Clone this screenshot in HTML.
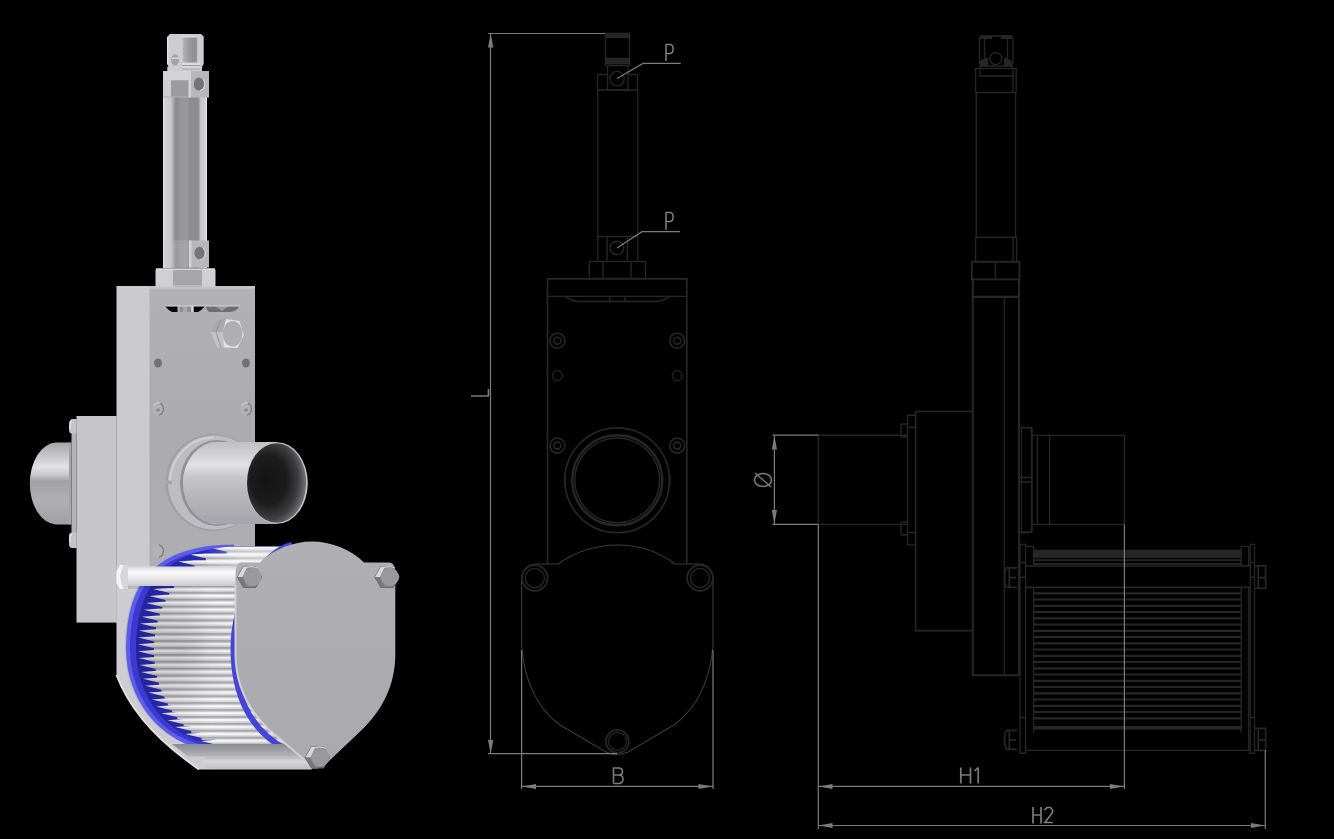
<!DOCTYPE html>
<html><head><meta charset="utf-8">
<style>
html,body{margin:0;padding:0;background:#000;width:1334px;height:839px;overflow:hidden;font-family:"Liberation Sans",sans-serif;}
svg{display:block;position:absolute;left:0;top:0;}
</style></head>
<body>
<svg width="1334" height="839" viewBox="0 0 1334 839">
<rect width="1334" height="839" fill="#000"/>
<!-- ============ MIDDLE DRAWING ============ -->
<g id="mid" fill="none" stroke="#262624" stroke-width="1.35">
  <!-- top block -->
  <rect x="605.5" y="33.5" width="24" height="32"/>
  <rect x="605.5" y="33.5" width="24" height="4" fill="#262624"/>
  <rect x="605.5" y="58.5" width="24" height="5" fill="#262624"/>
  <rect x="607.5" y="65.5" width="20.5" height="24.5"/>
  <path d="M597.5 90 V74.5 H607.5 M628 74.5 H637.5 V90"/>
  <circle cx="617" cy="78.6" r="7.2"/>
  <!-- cylinder -->
  <path d="M597.8 90 H637.8 M597.8 90 V260.5 M637.8 90 V260.5"/>
  <path d="M597.8 236.5 H637.8 M607 236.5 V260.5 M627.4 236.5 V260.5"/>
  <circle cx="617" cy="248" r="6.8"/>
  <!-- nut -->
  <rect x="589.3" y="261.5" width="56.2" height="17"/>
  <path d="M603 261.5 V278.5 M631 261.5 V278.5"/>
  <!-- body -->
  <path d="M547.5 563.5 V278.8 H686.8 V563.5" stroke-width="1.7"/>
  <path d="M547.5 296.4 H686.8"/>
  <path d="M565 296.4 Q572 301.5 580 301.5 H655 Q663 301.5 670 296.4 M610 296.4 V301.5 M625 296.4 V301.5"/>
  <g stroke-width="1.6">
    <circle cx="557.4" cy="340.7" r="7.5"/><circle cx="557.4" cy="340.7" r="3.5"/>
    <circle cx="677.2" cy="340.7" r="7.5"/><circle cx="677.2" cy="340.7" r="3.5"/>
    <circle cx="557.4" cy="445.6" r="7.5"/><circle cx="557.4" cy="445.6" r="3.5"/>
    <circle cx="677.2" cy="445.6" r="7.5"/><circle cx="677.2" cy="445.6" r="3.5"/>
  </g>
  <circle cx="557.4" cy="375.6" r="5" stroke-width="1.2"/>
  <circle cx="677.2" cy="375.6" r="5" stroke-width="1.2"/>
  <circle cx="617.2" cy="480.3" r="52.4" stroke-width="1.7"/>
  <circle cx="617.2" cy="480.3" r="45" stroke-width="2.4"/>
  <circle cx="617.2" cy="480.3" r="42.4" stroke-width="1.5"/>
  <path d="M563.5 477 H566.5 M563.5 484 H566.5 M668 477 H671 M668 484 H671" stroke-width="1.2"/>
  <!-- lid -->
  <path d="M521.6 577 V646 Q526 700 560 725 L606 752 Q617 757 628 752 L674 725 Q708 700 713 646 V577 Q712 566 700 564 H675 Q650 545 617.4 545 Q585 545 558 564 H535 Q523 566 521.6 577 Z" stroke="#3a3a3a" stroke-width="1.1"/>
  <g stroke-width="1.6">
    <circle cx="534.8" cy="578" r="12.8" stroke-width="1.8"/><circle cx="534.8" cy="578" r="9.6" stroke-width="1.4"/>
    <circle cx="700" cy="578" r="12.8" stroke-width="1.8"/><circle cx="700" cy="578" r="9.6" stroke-width="1.4"/>
    <circle cx="617.4" cy="741.4" r="11.5" stroke-width="1.8"/><circle cx="617.4" cy="741.4" r="9" stroke-width="1.2"/>
  </g>
</g>
<g fill="none" stroke="#7b7b7b" stroke-width="1.2">
  <path d="M490.5 33.5 V753.6 M488 33.5 H605 M488 753.6 H617"/>
  <path d="M521.6 650 V789 M713 650 V789 M521.6 786.4 H713"/>
  <path d="M666 61 V44.5 H670 Q673 44.5 673 48.5 V49.5 Q673 53.5 670 53.5 H666" stroke-width="1.6"/>
  <path d="M617 78.6 L643 63.4 H680.7"/>
  <path d="M666 229.7 V212.5 H670 Q673 212.5 673 216.5 V217.5 Q673 221.5 670 221.5 H666" stroke-width="1.6"/>
  <path d="M617 248 L642 231.7 H680"/>
  <path d="M471 396 H489 M488.5 396 V389" stroke-width="1.7"/>
  <path d="M613.5 783.5 V768 H618.5 Q622.5 768 622.5 771.5 Q622.5 775 618.5 775 H613.5 M618.5 775 Q623 775 623 779 Q623 783.5 618.5 783.5 H613.5" stroke-width="1.6"/>
</g>
<g fill="#7b7b7b">
  <path d="M488 47.6 L490.7 33.5 L493.4 47.6 Z"/>
  <path d="M488 740 L490.7 753.5 L493.4 740 Z"/>
  <path d="M536 784 L521.8 786.4 L536 789 Z"/>
  <path d="M698.5 784 L712.8 786.4 L698.5 789 Z"/>
</g>
<!-- ============ RIGHT DRAWING ============ -->
<g id="right" fill="none" stroke="#262624" stroke-width="1.35">
<path d="M981 36 H1011 L1013 38 V63 L1011 66 H981 L979.5 63 V38 Z"/>
<path d="M981 35.5 H992 V39 H981 Z M1001 35.5 H1012 V39 H1001 Z" fill="#262624" stroke="none"/>
<path d="M980 61 L985 58 H988 V66 H980 Z M1012 61 L1007 58 H1004 V66 H1012 Z" fill="#262624" stroke="none"/>
<path d="M984.5 39 V58 M1007.5 39 V58"/>
<circle cx="995.7" cy="58.6" r="6"/>
<path d="M980 66 V76 H1013 M1012 66 V68.5"/>
<rect x="975.6" y="68.5" width="40.6" height="24"/>
<path d="M1013 68.5 V92.5"/>
<path d="M976.3 92.5 V237.3 M1015.5 92.5 V237.3"/>
<rect x="975.6" y="237.3" width="41" height="24.4"/>
<path d="M1013 237.3 V261.7"/>
<rect x="971.8" y="261.7" width="47.7" height="17.7" stroke-width="1.8"/>
<path d="M995.4 261.7 V279.4"/>
<path d="M971.8 296.9 H1019.5" stroke-width="2.2"/>
<path d="M1004.3 296.9 V675.3"/>
<path d="M972.8 279.4 V675.3 H1019.2 M1019 279.4 V675.3" stroke-width="2"/>
<path d="M972.8 411.5 H915.6 V630.6 H972.8" stroke-width="1.6"/><path d="M907.5 427.5 H915.6 M907.5 532.5 H915.6"/>
<path d="M915.6 415.2 H907.5 V544.8 H915.6"/>
<path d="M907.5 424 H902.5 Q901 424 901 426 V435 Q901 437 902.5 437 H907.5 M907.5 522 H902.5 Q901 522 901 524 V533 Q901 535 902.5 535 H907.5"/>
<path d="M907.5 435.2 H818.3 V524.4 H907.5"/>
<path d="M1019.6 427.6 H1030 Q1031.8 427.6 1031.8 430 V530 Q1031.8 532.2 1030 532.2 H1019.6" stroke-width="1.9"/><path d="M1019.6 477.5 H1031.8 M1019.6 482 H1031.8 M1021.5 429 V531" stroke-width="1.3"/>
<path d="M1031.8 435.4 H1124.4 V524.4 H1031.8 M1037.4 435.4 V524.4 M1049.6 435.4 V524.4"/>
<path d="M1020 544.3 H1025.6 V753.2 H1020 Z M1020 562.5 H1025.6 M1020 577.2 H1025.6 M1020 717.5 H1025.6"/>
<path d="M1025.6 546.3 H1033.6 V566 M1033.6 587.4 V732.9"/>
<rect x="1033.6" y="549.8" width="207.6" height="8.1" fill="#262624" stroke="none"/>
<path d="M1033.6 560.2 H1241.2 M1033.6 563.8 H1241.2" stroke-width="1.8"/>
<path d="M1025.6 566 H1250.3 M1025.6 587.4 H1250.3" stroke-width="1.6"/>
<path d="M1241.2 546.3 H1248.6 V566 M1248.6 587.4 V750.4 M1241.2 587.4 V732.9 M1241.2 546.3 V566"/>
<path d="M1250.3 544.3 H1254.5 V753.2 H1250.3 Z M1250.3 562.5 H1254.5 M1250.3 577.2 H1254.5 M1250.3 717.5 H1254.5"/>
<path d="M1017 567.9 H1006.5 Q1004.5 570.9 1004.5 577.65 Q1004.5 584.4 1006.5 587.4 H1017 M1009.3 567.9 V587.4 M1009.3 577.65 H1016" stroke-width="1.7"/>
<path d="M1254.5 565.9 H1265.6 V588.4 H1254.5 M1258.2 565.9 V588.4 M1258.2 577.65 H1265" stroke-width="1.7"/>
<path d="M1017 730.4 H1006.5 Q1004.5 733.4 1004.5 739.8499999999999 Q1004.5 746.3 1006.5 749.3 H1017 M1009.3 730.4 V749.3 M1009.3 739.8499999999999 H1016" stroke-width="1.7"/>
<path d="M1254.5 728.4 H1265.6 V750.3 H1254.5 M1258.2 728.4 V750.3 M1258.2 739.8499999999999 H1265" stroke-width="1.7"/>
<path d="M1033.6 593.3 H1241.2 M1033.6 599.5 H1241.2 M1033.6 605.8 H1241.2 M1033.6 612.0 H1241.2 M1033.6 618.3 H1241.2 M1033.6 624.5 H1241.2 M1033.6 630.8 H1241.2 M1033.6 637.0 H1241.2 M1033.6 643.3 H1241.2 M1033.6 649.5 H1241.2 M1033.6 655.8 H1241.2 M1033.6 662.0 H1241.2 M1033.6 668.3 H1241.2 M1033.6 674.5 H1241.2 M1033.6 680.8 H1241.2 M1033.6 687.0 H1241.2 M1033.6 693.3 H1241.2 M1033.6 699.5 H1241.2 M1033.6 705.8 H1241.2 M1033.6 712.0 H1241.2 M1033.6 718.3 H1241.2" stroke-width="2.2" stroke="#262624"/>
<rect x="1033.6" y="726" width="207.6" height="3.6" fill="#262624" stroke="none"/>
<path d="M1025.6 750.4 H1250.3" stroke-width="1.3"/>
</g>
<g fill="none" stroke="#7b7b7b" stroke-width="1.2">
<path d="M772.5 435.2 H818.3 M772.5 524.4 H818.3 M774.4 435.2 V524.4"/>
<path d="M818.3 524.4 V829 M1124.4 524.4 V789 M1265.3 750 V829 M818.3 786.4 H1124.4 M818.3 825.5 H1265.3"/>
<path d="M960.8 767.5 V783.5 M970.5 767.5 V783.5 M960.8 775 H970.5 M978.2 767.5 V783.5 M974.5 771 L978.2 767.5" stroke-width="1.7"/>
<path d="M1033 807 V823.5 M1041 807 V823.5 M1033 815 H1041 M1044.5 810 L1047 807.5 H1050.5 L1052.5 810 V812.5 L1045 822.5 H1052.8" stroke-width="1.7"/>
<g transform="translate(763,480) rotate(-90)"><ellipse cx="0" cy="0" rx="6.5" ry="8.5" stroke-width="1.6"/><path d="M-7 8 L7 -8" stroke-width="1.4"/></g>
</g>
<g fill="#7b7b7b">
<path d="M771.8 449.5 L774.4 435.5 L777 449.5 Z M771.8 510 L774.4 524 L777 510 Z"/>
<path d="M832.5 784 L818.5 786.4 L832.5 789 Z M1110 784 L1124.2 786.4 L1110 789 Z"/>
<path d="M832.5 823.1 L818.5 825.5 L832.5 828 Z M1251 823.1 L1265.1 825.5 L1251 828 Z"/>
</g>
<!-- ============ 3D RENDER ============ -->
<g id="render">
<defs>
<linearGradient id="gShadB" gradientUnits="userSpaceOnUse" x1="0" y1="744" x2="0" y2="756.5">
 <stop offset="0" stop-color="#8a8a92"/><stop offset="1" stop-color="#b4b4b8"/>
</linearGradient>
<linearGradient id="gTopW" gradientUnits="userSpaceOnUse" x1="205" y1="0" x2="245" y2="0">
 <stop offset="0" stop-color="#fff" stop-opacity="0"/><stop offset="1" stop-color="#fff" stop-opacity="0.4"/>
</linearGradient>
<linearGradient id="gIns" gradientUnits="userSpaceOnUse" x1="183" y1="0" x2="199.5" y2="0">
 <stop offset="0" stop-color="#b4b4b8"/><stop offset="0.35" stop-color="#9c9ca0"/><stop offset="0.7" stop-color="#8e8e92"/><stop offset="1" stop-color="#a8a8ac"/>
</linearGradient>
<linearGradient id="gLid" gradientUnits="userSpaceOnUse" x1="0" y1="541" x2="0" y2="770">
 <stop offset="0" stop-color="#b0b0b4"/><stop offset="0.5" stop-color="#acacb0"/><stop offset="1" stop-color="#aaaaae"/>
</linearGradient>
<linearGradient id="gFront" gradientUnits="userSpaceOnUse" x1="0" y1="286" x2="0" y2="566">
 <stop offset="0" stop-color="#b2b2b6"/><stop offset="0.5" stop-color="#ababaf"/><stop offset="1" stop-color="#aeaeb2"/>
</linearGradient>
<linearGradient id="gCyl" gradientUnits="userSpaceOnUse" x1="163" y1="0" x2="207" y2="0">
 <stop offset="0" stop-color="#eeeef0"/><stop offset="0.04" stop-color="#d2d2d5"/>
 <stop offset="0.18" stop-color="#c8c8cb"/><stop offset="0.29" stop-color="#8a8a8c"/>
 <stop offset="0.4" stop-color="#949496"/><stop offset="0.52" stop-color="#9a9a9c"/>
 <stop offset="0.62" stop-color="#8e8e90"/><stop offset="0.8" stop-color="#8c8c8e"/>
 <stop offset="0.86" stop-color="#c8c8cb"/><stop offset="0.96" stop-color="#d0d0d3"/><stop offset="1" stop-color="#f0f0f2"/>
</linearGradient>
<linearGradient id="gPipeL" gradientUnits="userSpaceOnUse" x1="0" y1="442" x2="0" y2="525">
 <stop offset="0" stop-color="#a4a4a6"/><stop offset="0.15" stop-color="#c4c4c6"/>
 <stop offset="0.3" stop-color="#e2e2e4"/><stop offset="0.4" stop-color="#c8c8ca"/>
 <stop offset="0.47" stop-color="#a2a2a4"/><stop offset="0.7" stop-color="#b0b0b2"/>
 <stop offset="1" stop-color="#a0a0a2"/>
</linearGradient>
<linearGradient id="gPipeR" gradientUnits="userSpaceOnUse" x1="0" y1="442" x2="0" y2="524">
 <stop offset="0" stop-color="#c0c0c2"/><stop offset="0.12" stop-color="#cdcdcf"/>
 <stop offset="0.28" stop-color="#e2e2e4"/><stop offset="0.42" stop-color="#c8c8ca"/>
 <stop offset="0.6" stop-color="#bababc"/><stop offset="0.85" stop-color="#acacb2"/>
 <stop offset="1" stop-color="#a4a4aa"/>
</linearGradient>
<radialGradient id="gHole" cx="0.4" cy="0.47" r="0.62" fx="0.32" fy="0.45">
 <stop offset="0" stop-color="#141414"/><stop offset="0.5" stop-color="#1c1c1c"/><stop offset="0.78" stop-color="#3e3e40"/><stop offset="0.95" stop-color="#6e6e70"/><stop offset="1" stop-color="#909092"/>
</radialGradient>
<linearGradient id="gRod" gradientUnits="userSpaceOnUse" x1="0" y1="566" x2="0" y2="588">
 <stop offset="0" stop-color="#d4d4d6"/><stop offset="0.28" stop-color="#fafafc"/>
 <stop offset="0.6" stop-color="#e6e6e8"/><stop offset="1" stop-color="#c0c0c4"/>
</linearGradient>
<linearGradient id="gRod2" gradientUnits="userSpaceOnUse" x1="0" y1="756" x2="0" y2="769">
 <stop offset="0" stop-color="#b0b0b3"/><stop offset="0.4" stop-color="#d8d8dc"/>
 <stop offset="1" stop-color="#c0c0c4"/>
</linearGradient>
<pattern id="pPleat" patternUnits="userSpaceOnUse" x="0" y="546.5" width="300" height="6.9">
 <rect width="300" height="6.9" fill="#d4d4d6"/>
 <rect y="0" width="300" height="2" fill="#f8f8fa"/>
 <rect y="2" width="300" height="1.6" fill="#e2e2e4"/>
 <rect y="3.8" width="300" height="1.9" fill="#a8a8aa"/>
</pattern>
<radialGradient id="gPleatAO" gradientUnits="userSpaceOnUse" cx="185" cy="650" r="60">
 <stop offset="0" stop-color="#000" stop-opacity="0.12"/><stop offset="1" stop-color="#000" stop-opacity="0"/>
</radialGradient>
<linearGradient id="gPleatShade" gradientUnits="userSpaceOnUse" x1="130" y1="0" x2="290" y2="0">
 <stop offset="0" stop-color="#000" stop-opacity="0.15"/><stop offset="0.5" stop-color="#000" stop-opacity="0"/>
 <stop offset="1" stop-color="#000" stop-opacity="0.05"/>
</linearGradient>
</defs>
<path d="M70 442.5 H55.5 A27 41 0 0 0 55.5 524.4 H70 Z" fill="url(#gPipeL)"/>
<rect x="71.5" y="419" width="5" height="129" fill="#b4b4b8"/>
<path d="M76.5 419 H72 Q69 420 69 424 V430 Q69 433.5 72 433.5 H76.5 Z M76.5 532.5 H72 Q69 532.5 69 536 V544 Q69 548 72 548 H76.5 Z" fill="#c4c4c8"/>
<path d="M72 421 Q70 422 70 425 V429" fill="none" stroke="#e8e8ea" stroke-width="1.2"/><path d="M72 534.5 Q70 535 70 538 V542" fill="none" stroke="#e8e8ea" stroke-width="1.2"/>
<rect x="69" y="442.5" width="2.5" height="82" fill="#a4a4a8"/>
<rect x="76.5" y="416" width="40.5" height="206.6" fill="#c6c6ca"/>
<rect x="116.5" y="286" width="33.5" height="300" fill="#cbcbcf"/><rect x="116" y="416" width="1" height="207" fill="#a8a8ac"/>
<rect x="149.5" y="286" width="105.5" height="280" fill="url(#gFront)"/>
<rect x="149.5" y="286" width="105.5" height="3" fill="#c4c4c8"/>
<path d="M165 306.3 H177.5 V312 H172 Q168 310 165 306.3 Z" fill="#050505"/>
<rect x="179.6" y="306.3" width="11.7" height="5.7" fill="#8e8e90"/><rect x="183" y="306.3" width="4" height="5.7" fill="#a8a8aa"/>
<rect x="191.3" y="306" width="1.8" height="6" fill="#d8d8da"/>
<path d="M193.8 306.3 H205 Q202 310 198 312 H193.8 Z" fill="#050505"/>
<path d="M205.5 306.3 H239.5 Q236 312 230 312 H209 Q206.5 310 205.5 306.3 Z" fill="#6e6e72"/>
<path d="M215 306.3 L222 311 L229 306.3 Z" fill="#9a9a9e"/>
<path d="M165 306 H240" stroke="#e0e0e2" stroke-width="0.8"/>
<polygon points="210.5,332 218,319.5 226,319 222.5,333 224,347.5 217,347.5" fill="#b2b2b6"/>
<polygon points="210.5,332 218,319.5 226,319 222.5,332" fill="#a9a9ad"/>
<polygon points="210.5,332 222.5,332 224,347.5 217,347.5" fill="#c2c2c6"/>
<path d="M216 332 L221 319.5 M216 332 L221 347.5" stroke="#96969a" stroke-width="1" fill="none"/>
<polygon points="226,319 239.5,321 243.8,335 237.5,348 224,347.5 222.5,333" fill="#e2e2e4"/>
<ellipse cx="232.6" cy="333.8" rx="9.9" ry="12.7" fill="#afafb3"/>
<ellipse cx="158" cy="363" rx="4" ry="4.6" fill="#727276"/>
<circle cx="158" cy="409" r="6.2" fill="#b2b2b6"/><path d="M159 402.8 A6.2 6.5 0 0 1 159 415.2" fill="none" stroke="#7c7c80" stroke-width="1.3"/><path d="M153.5 405 A6 6 0 0 1 160 403" fill="none" stroke="#dadade" stroke-width="1"/><ellipse cx="158" cy="410" rx="2.2" ry="1.8" fill="#8c8c90"/>
<ellipse cx="246" cy="363" rx="4" ry="4.6" fill="#727276"/>
<circle cx="246" cy="409" r="6.2" fill="#b2b2b6"/><path d="M247 402.8 A6.2 6.5 0 0 1 247 415.2" fill="none" stroke="#7c7c80" stroke-width="1.3"/><path d="M241.5 405 A6 6 0 0 1 248 403" fill="none" stroke="#dadade" stroke-width="1"/><ellipse cx="246" cy="410" rx="2.2" ry="1.8" fill="#8c8c90"/>
<circle cx="158" cy="551" r="6.2" fill="#b2b2b6"/><path d="M159 544.8 A6.2 6.5 0 0 1 159 557.2" fill="none" stroke="#7c7c80" stroke-width="1.3"/>
<rect x="163" y="80" width="44" height="188" fill="url(#gCyl)"/>
<rect x="163" y="71" width="46" height="9.5" fill="#d4d4d6"/>
<rect x="171" y="80.5" width="18" height="16.5" fill="#9c9c9e"/><rect x="163" y="80.5" width="8" height="16.5" fill="#cfcfd2"/><rect x="163" y="96.5" width="26" height="1" fill="#b4b4b7"/>
<rect x="188.6" y="71" width="20.4" height="26.5" fill="#b8b8bc"/><rect x="188.6" y="71" width="2.4" height="26.5" fill="#d4d4d8"/>
<ellipse cx="199" cy="84" rx="5.2" ry="6.6" fill="#747478"/><path d="M203 79 A5.2 6.6 0 0 1 200 90.6" fill="none" stroke="#dadade" stroke-width="1"/>
<path d="M170 34 H201 L203.7 36.5 V64 L202 66.7 V71 H167.3 V66.7 H168.5 L167 64 V37 Z" fill="#cdcdd0"/>
<rect x="182.7" y="35.3" width="14.6" height="28" fill="url(#gIns)"/><rect x="182.7" y="35.3" width="14.6" height="2.2" fill="#dadade"/>
<rect x="182" y="62.5" width="18.5" height="2.5" fill="#dcdce0"/><rect x="182" y="65" width="18.5" height="1.2" fill="#a0a0a4"/><rect x="182" y="66.2" width="18.5" height="2.3" fill="#d8d8dc"/><rect x="182" y="68.5" width="18.5" height="1" fill="#a4a4a8"/>
<ellipse cx="175.1" cy="59.9" rx="4" ry="5.6" fill="#a4a4a8"/><rect x="172" y="57.5" width="7" height="1.4" fill="#d8d8da"/>
<rect x="167" y="37" width="1.3" height="27" fill="#e4e4e6"/>
<rect x="189" y="240.5" width="20" height="27" fill="#b8b8bc"/><rect x="189" y="240.5" width="2.4" height="27" fill="#d4d4d8"/>
<ellipse cx="199.5" cy="253" rx="5" ry="6.3" fill="#747478"/><path d="M203.5 248 A5 6.3 0 0 1 200.5 259.3" fill="none" stroke="#dadade" stroke-width="1"/>
<rect x="163" y="240.5" width="26" height="27" fill="#c8c8cb" opacity="0.25"/>
<path d="M156.5 268.5 H214.5 L215.5 270 V286.5 H155.5 V270 Z" fill="#d0d0d4"/>
<rect x="173" y="269.5" width="29" height="17" fill="#a6a6aa"/>
<rect x="156" y="268.5" width="59" height="1.2" fill="#e2e2e4"/>
<rect x="173" y="285" width="29" height="2" fill="#b8b8bc"/>
<ellipse cx="213" cy="482.5" rx="47.5" ry="48.5" fill="#a0a0a4"/>
<ellipse cx="214" cy="482.5" rx="46" ry="47" fill="#bdbdc1"/>
<path d="M170 482.5 A44 45 0 0 1 214 437.5" fill="none" stroke="#cfcfd3" stroke-width="2"/>
<rect x="165" y="480.5" width="7" height="3.5" fill="#a6a6aa"/>
<ellipse cx="217" cy="483" rx="37" ry="43" fill="#929296"/>
<ellipse cx="218" cy="483" rx="35" ry="41.5" fill="#b2b2b6"/>
<path d="M218 442 H277 V524 H218 A35 41 0 0 1 218 442 Z" fill="url(#gPipeR)"/>
<ellipse cx="277" cy="483" rx="30.8" ry="40.8" fill="#c6c6c8"/>
<ellipse cx="276.6" cy="483" rx="29.6" ry="39.8" fill="url(#gHole)"/>
<path d="M116.5 566 V675 C128 705 150 733 184.8 759 L199 769.5 H312 V566 Z" fill="#cdcdd1"/>
<path d="M116.5 675 C128 705 150 733 184.8 759 L199 769.5" fill="none" stroke="#e2e2e4" stroke-width="2"/>
<clipPath id="cFil"><path d="M234 546.5 C160 546.5 128 580 128 648 C128 704 168 749 222 749 H300 V546.5 Z"/></clipPath>
<clipPath id="cFil2"><path d="M236 546.5 C168 549 136 584 136 648 C136 702 174 745 226 745 H300 V546.5 Z"/></clipPath>
<path d="M240 544.5 C156 544.5 125 578 125 648 C125 706 166 751 222 751 H240 Z" fill="#b8b8bc"/>
<g clip-path="url(#cFil)">
<rect x="120" y="540" width="200" height="215" fill="#3a3ad0"/>
</g>
<path d="M234 546.5 C160 546.5 128 580 128 648 C128 704 168 749 222 749" fill="none" stroke="#5c5cec" stroke-width="4"/>
<g clip-path="url(#cFil2)">
<rect x="120" y="540" width="200" height="215" fill="#2a2ab8"/>
<path d="M226.7 546.5 L210.7 547.7 L226.7 551.7 L226.7 553.4 H300 V546.5 Z M205.9 553.4 L189.9 554.6 L205.9 558.6 L205.9 560.3 H300 V553.4 Z M194.5 560.3 L178.5 561.5 L194.5 565.5 L194.5 567.2 H300 V560.3 Z M186.1 567.2 L170.1 568.4 L186.1 572.4 L186.1 574.1 H300 V567.2 Z M179.4 574.1 L163.4 575.3 L179.4 579.3 L179.4 581.0 H300 V574.1 Z M173.9 581.0 L157.9 582.2 L173.9 586.2 L173.9 587.9 H300 V581.0 Z M169.3 587.9 L153.3 589.1 L169.3 593.1 L169.3 594.8 H300 V587.9 Z M165.5 594.8 L149.5 596.0 L165.5 600.0 L165.5 601.7 H300 V594.8 Z M162.4 601.7 L146.4 602.9 L162.4 606.9 L162.4 608.6 H300 V601.7 Z M159.8 608.6 L143.8 609.8 L159.8 613.8 L159.8 615.5 H300 V608.6 Z M157.7 615.5 L141.7 616.7 L157.7 620.7 L157.7 622.4 H300 V615.5 Z M156.1 622.4 L140.1 623.6 L156.1 627.6 L156.1 629.3 H300 V622.4 Z M155.0 629.3 L139.0 630.5 L155.0 634.5 L155.0 636.2 H300 V629.3 Z M154.3 636.2 L138.3 637.4 L154.3 641.4 L154.3 643.1 H300 V636.2 Z M154.0 643.1 L138.0 644.3 L154.0 648.3 L154.0 650.0 H300 V643.1 Z M154.1 650.0 L138.1 651.2 L154.1 655.2 L154.1 656.9 H300 V650.0 Z M154.7 656.9 L138.7 658.1 L154.7 662.1 L154.7 663.8 H300 V656.9 Z M155.7 663.8 L139.7 665.0 L155.7 669.0 L155.7 670.7 H300 V663.8 Z M157.1 670.7 L141.1 671.9 L157.1 675.9 L157.1 677.6 H300 V670.7 Z M159.0 677.6 L143.0 678.8 L159.0 682.8 L159.0 684.5 H300 V677.6 Z M161.4 684.5 L145.4 685.7 L161.4 689.7 L161.4 691.4 H300 V684.5 Z M164.4 691.4 L148.4 692.6 L164.4 696.6 L164.4 698.3 H300 V691.4 Z M167.9 698.3 L151.9 699.5 L167.9 703.5 L167.9 705.2 H300 V698.3 Z M172.2 705.2 L156.2 706.4 L172.2 710.4 L172.2 712.1 H300 V705.2 Z M177.3 712.1 L161.3 713.3 L177.3 717.3 L177.3 719.0 H300 V712.1 Z M183.6 719.0 L167.6 720.2 L183.6 724.2 L183.6 725.9 H300 V719.0 Z M191.3 725.9 L175.3 727.1 L191.3 731.1 L191.3 732.8 H300 V725.9 Z M201.5 732.8 L185.5 734.0 L201.5 738.0 L201.5 739.7 H300 V732.8 Z M217.0 739.7 L201.0 740.9 L217.0 744.9 L217.0 746.6 H300 V739.7 Z M240.0 746.6 L224.0 747.8 L240.0 751.8 L240.0 753.5 H300 V746.6 Z" fill="url(#pPleat)"/>
<rect x="120" y="540" width="200" height="215" fill="url(#gPleatShade)"/><rect x="120" y="540" width="200" height="215" fill="url(#gPleatAO)"/><rect x="200" y="546" width="98" height="20" fill="url(#gTopW)"/>
</g>
<path d="M292 545 C262 552 233.5 600 233.5 648 C233.5 700 254 733 287 750" fill="none" stroke="#4444dc" stroke-width="6"/>
<rect x="122" y="566.5" width="124" height="19.5" fill="url(#gRod)"/>
<rect x="122" y="586" width="124" height="3" fill="#000" opacity="0.1"/>
<path d="M116.5 571 L120 565 H128 V589 H120 L116.5 583 Z" fill="#d6d6da"/>
<path d="M116.5 571 L120 565 H123 L120 576 L123 589 H120 L116.5 583 Z" fill="#f4f4f6"/>
<path d="M172 744 H300 V756.5 H188 Z" fill="url(#gShadB)"/>
<path d="M210 756.5 H318 V768.5 H210 Q202.5 768.5 202.5 762.5 Q202.5 756.5 210 756.5 Z" fill="url(#gRod2)"/>
<path d="M241 562.5 H260 A75 75 0 0 1 364 562.5 H390 Q395.3 563 395.3 575 V654 C395.3 688 380 712 363 728.7 L328 762 Q318 771 307 762 L268 728.7 C251 712 235.5 688 235.5 654 V575 Q235.5 563 241 562.5 Z" fill="url(#gLid)"/>
<path d="M235.5 585 V654 C235.5 688 251 712 268 728.7 L307 762" fill="none" stroke="#d0d0d4" stroke-width="2"/>
<polygon points="261.5,577.0 255.5,566.6 243.5,566.6 237.5,577.0 243.5,587.4 255.5,587.4" fill="#8c8c90" stroke="#6a6a6e" stroke-width="1.2"/>
<polygon points="237.5,577.0 243.5,566.6 247.5,566.6 242.5,577.0" fill="#d8d8dc"/>
<polygon points="237.5,577.0 242.5,577.0 247.5,587.4 243.5,587.4" fill="#78787c"/>
<circle cx="252.5" cy="577.0" r="9.0" fill="#9a9a9e"/>
<path d="M246.5 567.6 Q252.5 565.6 257.5 568.1" fill="none" stroke="#d0d0d4" stroke-width="1.2"/>
<polygon points="399.0,577.0 393.0,566.6 381.0,566.6 375.0,577.0 381.0,587.4 393.0,587.4" fill="#8c8c90" stroke="#6a6a6e" stroke-width="1.2"/>
<polygon points="375.0,577.0 381.0,566.6 385.0,566.6 380.0,577.0" fill="#d8d8dc"/>
<polygon points="375.0,577.0 380.0,577.0 385.0,587.4 381.0,587.4" fill="#78787c"/>
<circle cx="390.0" cy="577.0" r="9.0" fill="#9a9a9e"/>
<path d="M384.0 567.6 Q390.0 565.6 395.0 568.1" fill="none" stroke="#d0d0d4" stroke-width="1.2"/>
<polygon points="329.4,757.4 323.4,747.0 311.4,747.0 305.4,757.4 311.4,767.8 323.4,767.8" fill="#8c8c90" stroke="#6a6a6e" stroke-width="1.2"/>
<polygon points="305.4,757.4 311.4,747.0 315.4,747.0 310.4,757.4" fill="#d8d8dc"/>
<polygon points="305.4,757.4 310.4,757.4 315.4,767.8 311.4,767.8" fill="#78787c"/>
<circle cx="320.4" cy="757.4" r="9.0" fill="#9a9a9e"/>
<path d="M314.4 748.0 Q320.4 746.0 325.4 748.5" fill="none" stroke="#d0d0d4" stroke-width="1.2"/>
</g>
</svg>
</body></html>
